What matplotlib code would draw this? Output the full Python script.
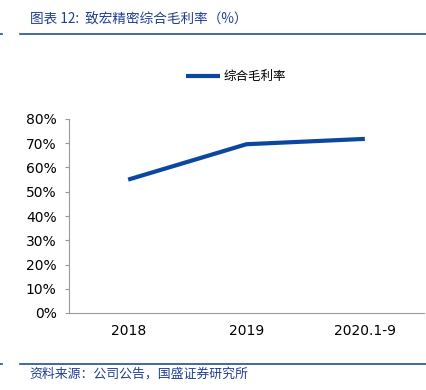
import numpy as np
import matplotlib.pyplot as plt
from matplotlib.lines import Line2D

plt.rcParams['font.family'] = ['Noto Sans CJK SC', 'DejaVu Sans']

# 数据
categories = ['2018', '2019', '2020.1-9']
margin = [55.0, 69.6, 71.8]
yticks = [0, 10, 20, 30, 40, 50, 60, 70, 80]

fig = plt.figure(figsize=(4.26, 3.9), dpi=100)
ax = fig.add_axes([69 / 426, 1 - 313 / 390, 355 / 426, 194 / 390])

x = np.arange(len(categories))
ax.plot(x, margin, color='#0b47a1', linewidth=3, label='综合毛利率', solid_capstyle='butt')
ax.set_xlim(-0.5, len(categories) - 0.5)
ax.set_ylim(0, 80)
ax.set_yticks(yticks)
ax.set_yticklabels([f'{v}%' for v in yticks], fontsize=10, family='DejaVu Sans')
ax.set_xticks(x)
ax.set_xticklabels(categories, fontsize=10, family='DejaVu Sans')
ax.tick_params(axis='y', length=3, color='#999999', pad=6)
ax.tick_params(axis='x', length=0, pad=8)
for s in ['top', 'right']:
    ax.spines[s].set_visible(False)
for s in ['left', 'bottom']:
    ax.spines[s].set_color('#999999')
    ax.spines[s].set_linewidth(0.8)

ax.legend(loc='upper center', bbox_to_anchor=(0.47, 1.31), frameon=False,
          fontsize=9, handlelength=2.7, handletextpad=0.3)

# 标题与页脚
fig.text(0.07, 1 - 20 / 390, '图表 12:  致宏精密综合毛利率（%）', fontsize=9.8,
         style='italic', color='#1f3f8f', va='center')
fig.add_artist(Line2D([20 / 426, 1], [1 - 34 / 390] * 2, color='#1f4e9c', linewidth=1.2))
fig.add_artist(Line2D([20 / 426, 1], [1 - 364 / 390] * 2, color='#1f4e9c', linewidth=1.2))
fig.add_artist(Line2D([0, 2 / 426], [1 - 34 / 390] * 2, color='#1f4e9c', linewidth=1.2))
fig.add_artist(Line2D([0, 2 / 426], [1 - 364 / 390] * 2, color='#1f4e9c', linewidth=1.2))
fig.text(0.07, 1 - 374 / 390, '资料来源：公司公告，国盛证券研究所', fontsize=9.3,
         style='italic', color='#1f3f8f', va='center')

fig.savefig('out.png', dpi=100)
